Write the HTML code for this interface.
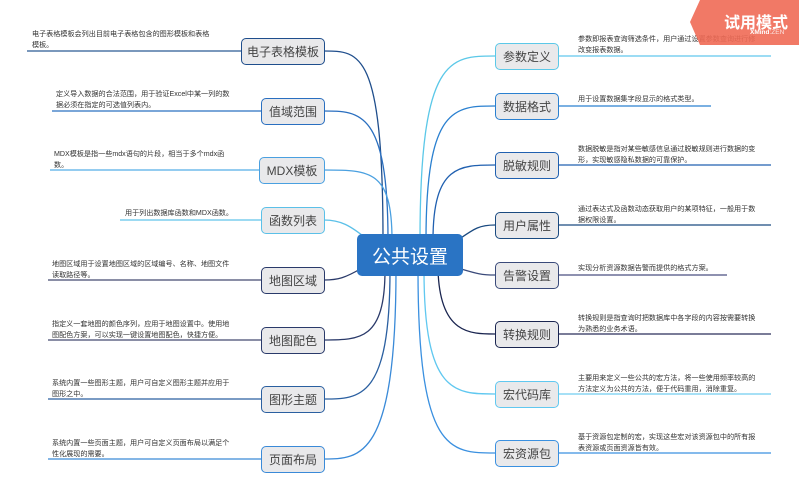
<!DOCTYPE html>
<html><head><meta charset="utf-8"><style>
body{margin:0;width:799px;height:500px;background:#fff;position:relative;overflow:hidden;font-family:"Liberation Sans","Noto Sans CJK SC",sans-serif}
.n{position:absolute;height:25px;border:1.3px solid;border-radius:5px;background:#e9e9eb;font-size:12px;color:#444;display:flex;align-items:center;justify-content:center;box-sizing:border-box}
.t{position:absolute;font-size:7.1px;line-height:10.5px;color:#333;white-space:nowrap}
svg{position:absolute;left:0;top:0}
</style></head><body>
<svg width="799" height="500" fill="none" stroke-width="1.3">
<g stroke-width="1.2">
<line x1="27" y1="51" x2="241" y2="51" stroke="#2a5a95"/>
<line x1="52" y1="111" x2="261" y2="111" stroke="#2a70c0"/>
<line x1="50" y1="170" x2="259" y2="170" stroke="#55aee6"/>
<line x1="120" y1="220" x2="261" y2="220" stroke="#60c4ea"/>
<line x1="48" y1="280" x2="261" y2="280" stroke="#454a70"/>
<line x1="48" y1="340" x2="261" y2="340" stroke="#454a70"/>
<line x1="48" y1="399" x2="261" y2="399" stroke="#2a5fa0"/>
<line x1="48" y1="459" x2="261" y2="459" stroke="#3a8ad8"/>
<line x1="558" y1="56" x2="771" y2="56" stroke="#60c8ee"/>
<line x1="558" y1="106" x2="711" y2="106" stroke="#2a80d0"/>
<line x1="558" y1="165" x2="771" y2="165" stroke="#2060b0"/>
<line x1="558" y1="225" x2="771" y2="225" stroke="#1a4a80"/>
<line x1="558" y1="275" x2="727" y2="275" stroke="#4a4f80"/>
<line x1="558" y1="334" x2="771" y2="334" stroke="#2a2f5a"/>
<line x1="558" y1="394" x2="771" y2="394" stroke="#70cdf0"/>
<line x1="558" y1="453" x2="771" y2="453" stroke="#3a90e0"/>
</g>
<path d="M383 240 C383 51,360 51,324 51" stroke="#1f4e8c"/>
<path d="M388 240 C388 111,360 111,324 111" stroke="#2a6fc0"/>
<path d="M392 240 C392 170,370 170,324 170" stroke="#4aa0e0"/>
<path d="M368 240 C350 225,340 220,324 220" stroke="#5bc0e8"/>
<path d="M362 268 C345 278,338 280,324 280" stroke="#2a3a6a"/>
<path d="M385 270 C385 340,360 340,324 340" stroke="#2a3a6a"/>
<path d="M390 270 C390 399,360 399,324 399" stroke="#2a5fa0"/>
<path d="M396 270 C396 459,360 459,324 459" stroke="#3a8ad8"/>
<path d="M420 240 C420 56,450 56,495 56" stroke="#5bc8e8"/>
<path d="M426 240 C426 106,455 106,495 106" stroke="#2a80d0"/>
<path d="M433 240 C433 165,460 165,495 165" stroke="#2060b0"/>
<path d="M458 240 C475 228,480 225,495 225" stroke="#1a4a80"/>
<path d="M458 268 C475 273,480 275,495 275" stroke="#3a4a7a"/>
<path d="M438 270 C440 334,470 334,495 334" stroke="#1a2550"/>
<path d="M424 270 C424 394,455 394,495 394" stroke="#60c8f0"/>
<path d="M418 270 C418 453,450 453,495 453" stroke="#3a90e0"/>
</svg>
<div style="position:absolute;left:357px;top:234px;width:106px;height:42px;background:#2a74c4;border-radius:5px;color:#fff;font-size:19px;display:flex;align-items:center;justify-content:center">公共设置</div>

<div class="n" style="left:241px;top:38px;width:84px;height:27px;border-color:#1f4e8c">电子表格模板</div>
<div class="n" style="left:261px;top:98px;width:64px;height:27px;border-color:#2a6fc0">值域范围</div>
<div class="n" style="left:259px;top:157px;width:66px;height:27px;border-color:#4aa0e0">MDX模板</div>
<div class="n" style="left:261px;top:207px;width:64px;height:27px;border-color:#5bc0e8">函数列表</div>
<div class="n" style="left:261px;top:267px;width:64px;height:27px;border-color:#2a3a6a">地图区域</div>
<div class="n" style="left:261px;top:327px;width:64px;height:27px;border-color:#2a3a6a">地图配色</div>
<div class="n" style="left:261px;top:386px;width:64px;height:27px;border-color:#2a5fa0">图形主题</div>
<div class="n" style="left:261px;top:446px;width:64px;height:27px;border-color:#3a8ad8">页面布局</div>

<div class="n" style="left:495px;top:43px;width:64px;height:27px;border-color:#5bc8e8">参数定义</div>
<div class="n" style="left:495px;top:93px;width:64px;height:27px;border-color:#2a80d0">数据格式</div>
<div class="n" style="left:495px;top:152px;width:64px;height:27px;border-color:#2060b0">脱敏规则</div>
<div class="n" style="left:495px;top:212px;width:64px;height:27px;border-color:#1a4a80">用户属性</div>
<div class="n" style="left:495px;top:262px;width:64px;height:27px;border-color:#3a4a7a">告警设置</div>
<div class="n" style="left:495px;top:321px;width:64px;height:27px;border-color:#1a2550">转换规则</div>
<div class="n" style="left:495px;top:381px;width:64px;height:27px;border-color:#60c8f0">宏代码库</div>
<div class="n" style="left:495px;top:440px;width:64px;height:27px;border-color:#3a90e0">宏资源包</div>

<div class="t" style="left:32px;top:29px">电子表格模板会列出目前电子表格包含的图形模板和表格<br>模板。</div>
<div class="t" style="left:56px;top:89px">定义导入数据的合法范围，用于验证Excel中某一列的数<br>据必须在指定的可选值列表内。</div>
<div class="t" style="left:54px;top:149px">MDX模板是指一些mdx语句的片段，相当于多个mdx函<br>数。</div>
<div class="t" style="left:125px;top:208px">用于列出数据库函数和MDX函数。</div>
<div class="t" style="left:52px;top:259px">地图区域用于设置地图区域的区域编号、名称、地图文件<br>读取路径等。</div>
<div class="t" style="left:52px;top:319px">指定义一套地图的颜色序列，应用于地图设置中。使用地<br>图配色方案，可以实现一键设置地图配色，快捷方便。</div>
<div class="t" style="left:52px;top:378px">系统内置一些图形主题，用户可自定义图形主题并应用于<br>图形之中。</div>
<div class="t" style="left:52px;top:438px">系统内置一些页面主题，用户可自定义页面布局以满足个<br>性化展现的需要。</div>

<div class="t" style="left:578px;top:34px">参数即报表查询筛选条件，用户通过设置参数查询进行修<br>改变报表数据。</div>
<div class="t" style="left:578px;top:94px">用于设置数据集字段显示的格式类型。</div>
<div class="t" style="left:578px;top:144px">数据脱敏是指对某些敏感信息通过脱敏规则进行数据的变<br>形，实现敏感隐私数据的可靠保护。</div>
<div class="t" style="left:578px;top:204px">通过表达式及函数动态获取用户的某项特征，一般用于数<br>据权限设置。</div>
<div class="t" style="left:578px;top:263px">实现分析资源数据告警而提供的格式方案。</div>
<div class="t" style="left:578px;top:313px">转换规则是指查询时把数据库中各字段的内容按需要转换<br>为熟悉的业务术语。</div>
<div class="t" style="left:578px;top:373px">主要用来定义一些公共的宏方法，将一些使用频率较高的<br>方法定义为公共的方法，便于代码重用，消除重复。</div>
<div class="t" style="left:578px;top:432px">基于资源包定制的宏，实现这些宏对该资源包中的所有报<br>表资源或页面资源皆有效。</div>

<svg width="799" height="500"><polygon points="700,0 799,0 799,45 700,45 690,22" fill="#f06a55" opacity="0.9"/></svg>
<div style="position:absolute;left:724px;top:9px;color:#fff;font-size:16px;font-weight:bold">试用模式</div>
<div style="position:absolute;left:750px;top:29px;color:#fff;font-size:6.5px;font-weight:bold">XMind<span style="font-weight:normal;opacity:.8">:ZEN</span></div>
</body></html>
